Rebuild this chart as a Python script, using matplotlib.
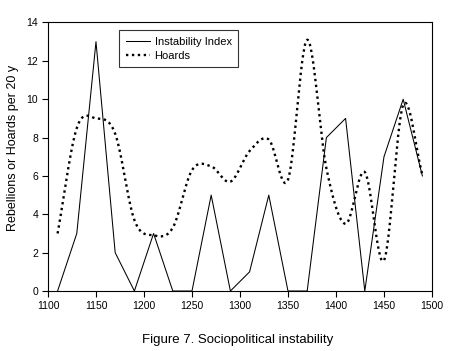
import numpy as np
import matplotlib
matplotlib.use("Agg")
import matplotlib.pyplot as plt

plt.rcParams["font.family"] = ["Liberation Sans", "DejaVu Sans"]

# data (20-year periods)
years = [1110, 1130, 1150, 1170, 1190, 1210, 1230, 1250, 1270, 1290,
         1310, 1330, 1350, 1370, 1390, 1410, 1430, 1450, 1470, 1490]
instability = [0, 3, 13, 2, 0, 3, 0, 0, 5, 0,
               1, 5, 0, 0, 8, 9, 0, 7, 10, 6]
hoards = [3.0, 8.5, 9.0, 8.2, 3.7, 2.9, 3.3, 6.3, 6.5, 5.7,
          7.3, 7.9, 5.8, 13.1, 6.4, 3.5, 6.2, 1.6, 9.7, 6.05]

xticks = [1100, 1150, 1200, 1250, 1300, 1350, 1400, 1450, 1500]
yticks = [0, 2, 4, 6, 8, 10, 12, 14]


def smooth(x, y, n=30):
    # Catmull-Rom curve through the points (the original uses a spline line)
    x = np.asarray(x, float)
    y = np.asarray(y, float)
    xp = np.concatenate([[2 * x[0] - x[1]], x, [2 * x[-1] - x[-2]]])
    yp = np.concatenate([[2 * y[0] - y[1]], y, [2 * y[-1] - y[-2]]])
    xs, ys = [], []
    t = np.linspace(0, 1, n, endpoint=False)
    for i in range(1, len(xp) - 2):
        p0, p1, p2, p3 = yp[i - 1], yp[i], yp[i + 1], yp[i + 2]
        ys.append(0.5 * (2 * p1 + (-p0 + p2) * t
                         + (2 * p0 - 5 * p1 + 4 * p2 - p3) * t ** 2
                         + (-p0 + 3 * p1 - 3 * p2 + p3) * t ** 3))
        xs.append(xp[i] + (xp[i + 1] - xp[i]) * t)
    xs.append([x[-1]])
    ys.append([y[-1]])
    return np.concatenate(xs), np.concatenate(ys)


fig = plt.figure(figsize=(4.54, 3.51), dpi=100)
ax = fig.add_axes([0.1057, 0.1709, 0.8458, 0.765])

ax.plot(years, instability, color="black", lw=0.75, label="Instability Index")
hx, hy = smooth(years, hoards)
ax.plot(hx, hy, color="black", lw=1.7, linestyle=(0, (1.0, 1.5)),
        label="Hoards")

ax.set_xlim(1100, 1500)
ax.set_ylim(0, 14)
ax.set_xticks(xticks)
ax.set_yticks(yticks)
ax.tick_params(direction="out", length=4, width=0.8, labelsize=7.5,
               colors="black", pad=3)
for s in ax.spines.values():
    s.set_linewidth(0.8)

ax.set_ylabel("Rebellions or Hoards per 20 y", fontsize=9)
ax.yaxis.set_label_coords(-0.075, 0.533)

leg = ax.legend(loc="upper left", bbox_to_anchor=(0.185, 0.972),
                fontsize=8, frameon=True, fancybox=False, borderpad=0.6,
                handlelength=2.2, handletextpad=0.4, labelspacing=0.35,
                borderaxespad=0)
leg.get_frame().set_edgecolor("black")
leg.get_frame().set_linewidth(0.8)

fig.text(0.523, 0.03, "Figure 7. Sociopolitical instability", fontsize=9.5,
         ha="center", va="center")

fig.savefig("out.png", dpi=100)
